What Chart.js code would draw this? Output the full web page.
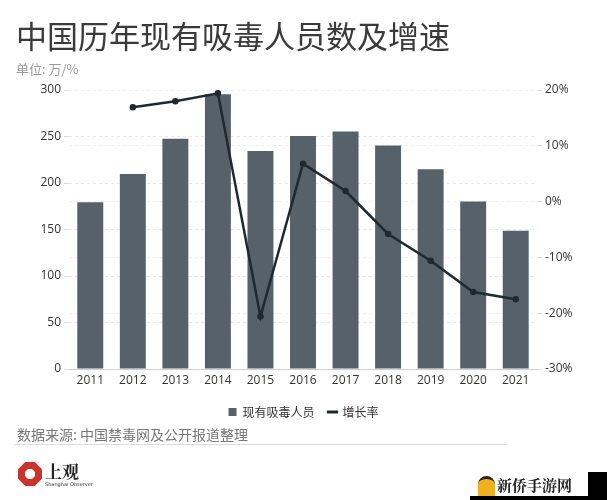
<!DOCTYPE html>
<html>
<head>
<meta charset="utf-8">
<script src="https://cdn.jsdelivr.net/npm/chart.js@4.4.1/dist/chart.umd.min.js"></script>
<style>
  body { margin: 0; background: #fff; }
  #wrap { position: relative; width: 607px; height: 500px; overflow: hidden; font-family: "Noto Sans CJK SC", "Noto Sans", sans-serif; }
  #myChart { position: absolute; left: 0; top: 0; }
  .title { position: absolute; left: 16px; top: 12px; font-size: 31px; color: #3a3a3a; letter-spacing: 0px; }
  .unit { position: absolute; left: 16px; top: 59px; font-size: 13px; color: #9a9a9a; }
  .source { position: absolute; left: 17px; top: 424px; font-size: 14px; color: #777; }
  .rule { position: absolute; left: 15px; top: 444px; width: 492px; height: 1px; background: #ddd; }
  .logo { position: absolute; left: 18px; top: 462px; width: 24px; height: 24px; background: #c8352c;
          clip-path: polygon(30% 0, 70% 0, 100% 30%, 100% 70%, 70% 100%, 30% 100%, 0 70%, 0 30%); }
  .logo:after { content: ""; position: absolute; left: 7px; top: 7px; width: 10px; height: 10px; background: #fff;
          clip-path: polygon(30% 0, 70% 0, 100% 30%, 100% 70%, 70% 100%, 30% 100%, 0 70%, 0 30%); }
  .logoText { position: absolute; left: 45px; top: 458px; font-size: 17px; color: #222; font-family: "Noto Serif CJK SC", "Noto Sans CJK SC", serif; font-weight: bold; }
  .logoSub { position: absolute; left: 45px; top: 481px; font-size: 5px; color: #333; font-family: "DejaVu Sans", sans-serif; }
  .wm { position: absolute; left: 497px; top: 474px; font-size: 15px; color: #222; font-weight: bold; font-family: "Noto Serif CJK SC", "Noto Sans CJK SC", serif; }
  .wmIcon { position: absolute; left: 478px; top: 476px; width: 17px; height: 17px; border-radius: 9px 9px 0 0; background: #f0b020; border-top: 3px solid #222; }
  .black { position: absolute; left: 588px; top: 472px; width: 19px; height: 28px; background: #000; }
  .blackLow { position: absolute; left: 470px; top: 496px; width: 137px; height: 4px; background: #000; }
</style>
</head>
<body>
<div id="wrap">
  <canvas id="myChart" width="607" height="500"></canvas>
  <div class="title">中国历年现有吸毒人员数及增速</div>
  <div class="unit">单位: 万/%</div>
  <div class="source">数据来源: 中国禁毒网及公开报道整理</div>
  <div class="rule"></div>
  <div class="logo"></div>
  <div class="logoText">上观</div>
  <div class="logoSub">Shanghai Observer</div>
  <div class="wmIcon"></div>
  <div class="wm">新侨手游网</div>
  <div class="black"></div>
  <div class="blackLow"></div>
</div>
<script>
const years = ['2011', '2012', '2013', '2014', '2015', '2016', '2017', '2018', '2019', '2020', '2021'];
const users = [179.4, 209.8, 247.5, 295.5, 234.5, 250.5, 255.3, 240.4, 214.8, 180.1, 148.6];
const growth = [null, 16.9, 18.0, 19.4, -20.6, 6.8, 1.9, -5.8, -10.6, -16.2, -17.5];
const leftTicks = [0, 50, 100, 150, 200, 250, 300];
const rightTicks = [-30, -20, -10, 0, 10, 20];

const ctx = document.getElementById('myChart').getContext('2d');
const tickFont = { family: '"Open Sans", "Noto Sans", sans-serif', size: 12 };

// bar + line chart
const myChart = new Chart(ctx, {
    data: {
        labels: years,
        datasets: [{
            type: 'bar',
            label: '现有吸毒人员',
            data: users,
            yAxisID: 'y',
            backgroundColor: '#56616a',
            barPercentage: 0.61,
            categoryPercentage: 1,
            order: 1
        }, {
            type: 'line',
            label: '增长率',
            data: growth,
            yAxisID: 'y1',
            borderColor: '#1e2930',
            backgroundColor: '#1e2930',
            borderWidth: 2.5,
            pointRadius: 2,
            tension: 0,
            order: 0
        }]
    },
    options: {
        responsive: false,
        animation: false,
        layout: { padding: { top: 90, left: 0, right: 0, bottom: 72 } },
        plugins: {
            tooltip: { enabled: false },
            legend: {
                position: 'bottom',
                labels: {
                    color: '#333',
                    font: { family: '"Noto Sans CJK SC", sans-serif', size: 12 },
                    usePointStyle: true,
                    boxWidth: 8,
                    boxHeight: 8,
                    padding: 14,
                    sort: (a, b) => a.datasetIndex - b.datasetIndex,
                    generateLabels: (chart) => chart.data.datasets.map((ds, i) => ({
                        text: ds.label,
                        datasetIndex: i,
                        fillStyle: ds.type === 'bar' ? '#56616a' : '#1e2930',
                        strokeStyle: ds.type === 'bar' ? '#56616a' : '#1e2930',
                        lineWidth: ds.type === 'bar' ? 0 : 3,
                        pointStyle: ds.type === 'bar' ? 'rect' : 'line',
                        fontColor: '#333'
                    }))
                }
            }
        },
        scales: {
            x: {
                grid: { display: false, drawTicks: false },
                border: { color: '#cfcfcf' },
                ticks: { color: '#333', font: tickFont, padding: 4 },
                afterFit: (s) => { s.height = 23; }
            },
            y: {
                position: 'left',
                min: 0,
                max: 300,
                afterBuildTicks: (s) => { s.ticks = leftTicks.map(v => ({ value: v })); },
                grid: { color: '#e6e6e6', tickLength: 5, tickColor: '#ddd' },
                border: { display: false, dash: [3, 3] },
                ticks: { color: '#333', font: tickFont, padding: 3 },
                afterFit: (s) => { s.width = 69; }
            },
            y1: {
                position: 'right',
                min: -30,
                max: 20,
                afterBuildTicks: (s) => { s.ticks = rightTicks.map(v => ({ value: v })); },
                grid: { color: '#eeeeee', tickLength: 5, tickColor: '#ddd' },
                border: { display: false, dash: [3, 3] },
                ticks: { color: '#333', font: tickFont, padding: 3, callback: (v) => v + '%' },
                afterFit: (s) => { s.width = 70; }
            }
        }
    }
});
</script>
</body>
</html>
